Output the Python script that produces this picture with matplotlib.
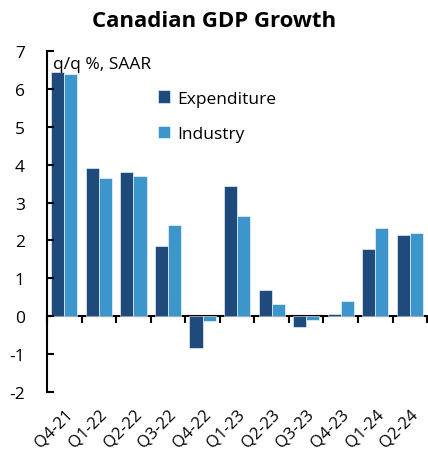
import numpy as np
import matplotlib
matplotlib.use("Agg")
import matplotlib.pyplot as plt

plt.rcParams["font.family"] = ["Open Sans", "DejaVu Sans"]

# ── Data ─────────────────────────────────────────────────────────────────────
quarters = ["Q4-21", "Q1-22", "Q2-22", "Q3-22", "Q4-22", "Q1-23",
            "Q2-23", "Q3-23", "Q4-23", "Q1-24", "Q2-24"]
expenditure = [6.44, 3.90, 3.80, 1.85, -0.85, 3.43, 0.69, -0.29, 0.07, 1.77, 2.14]
industry = [6.39, 3.64, 3.69, 2.40, -0.13, 2.64, 0.32, -0.10, 0.40, 2.33, 2.19]

C_EXP = "#1f4a7c"
C_IND = "#3d96cb"
Y_MIN, Y_MAX = -2, 7

fig = plt.figure(figsize=(4.28, 4.56), dpi=100)
ax = fig.add_axes([0.110, 0.138, 0.888, 0.748])

x = np.arange(len(quarters))
w = 0.38
ax.bar(x - w / 2, expenditure, w, color=C_EXP, edgecolor="white",
       linewidth=0.4, label="Expenditure")
ax.bar(x + w / 2, industry, w, color=C_IND, edgecolor="white",
       linewidth=0.4, label="Industry")

ax.set_xlim(-0.5, len(quarters) - 0.5)
ax.set_ylim(Y_MIN, Y_MAX)
ax.set_yticks(range(Y_MIN, Y_MAX + 1))
ax.set_yticklabels([str(v) for v in range(Y_MIN, Y_MAX + 1)], fontsize=12.5)
ax.tick_params(axis="y", direction="in", length=5, width=1.5, pad=16)

# category labels sit under the plot area
ax.set_xticks(x)
ax.set_xticklabels(quarters, rotation=45, ha="right", rotation_mode="anchor",
                   fontsize=12)
ax.tick_params(axis="x", length=0, pad=10)

for s in ["top", "right", "bottom"]:
    ax.spines[s].set_visible(False)
ax.spines["left"].set_linewidth(1.5)

# zero line with ticks on the group boundaries
zero = ax.secondary_xaxis((0 - Y_MIN) / (Y_MAX - Y_MIN))
zero.set_xticks(np.arange(-0.5, len(quarters)))
zero.set_xticklabels([])
zero.tick_params(length=5, width=1.5, direction="out")
zero.spines["bottom"].set_linewidth(1.5)

ax.text(0.015, 0.985, "q/q %, SAAR", transform=ax.transAxes,
        fontsize=12.5, va="top", ha="left")

ax.legend(loc="upper left", bbox_to_anchor=(0.25, 0.93), frameon=False,
          fontsize=12.5, handlelength=0.7, handleheight=0.7,
          handletextpad=0.4, labelspacing=1.1)

fig.suptitle("Canadian GDP Growth", fontsize=16, fontweight="bold",
             x=0.5, y=0.975)

fig.savefig("out.png", dpi=100)
